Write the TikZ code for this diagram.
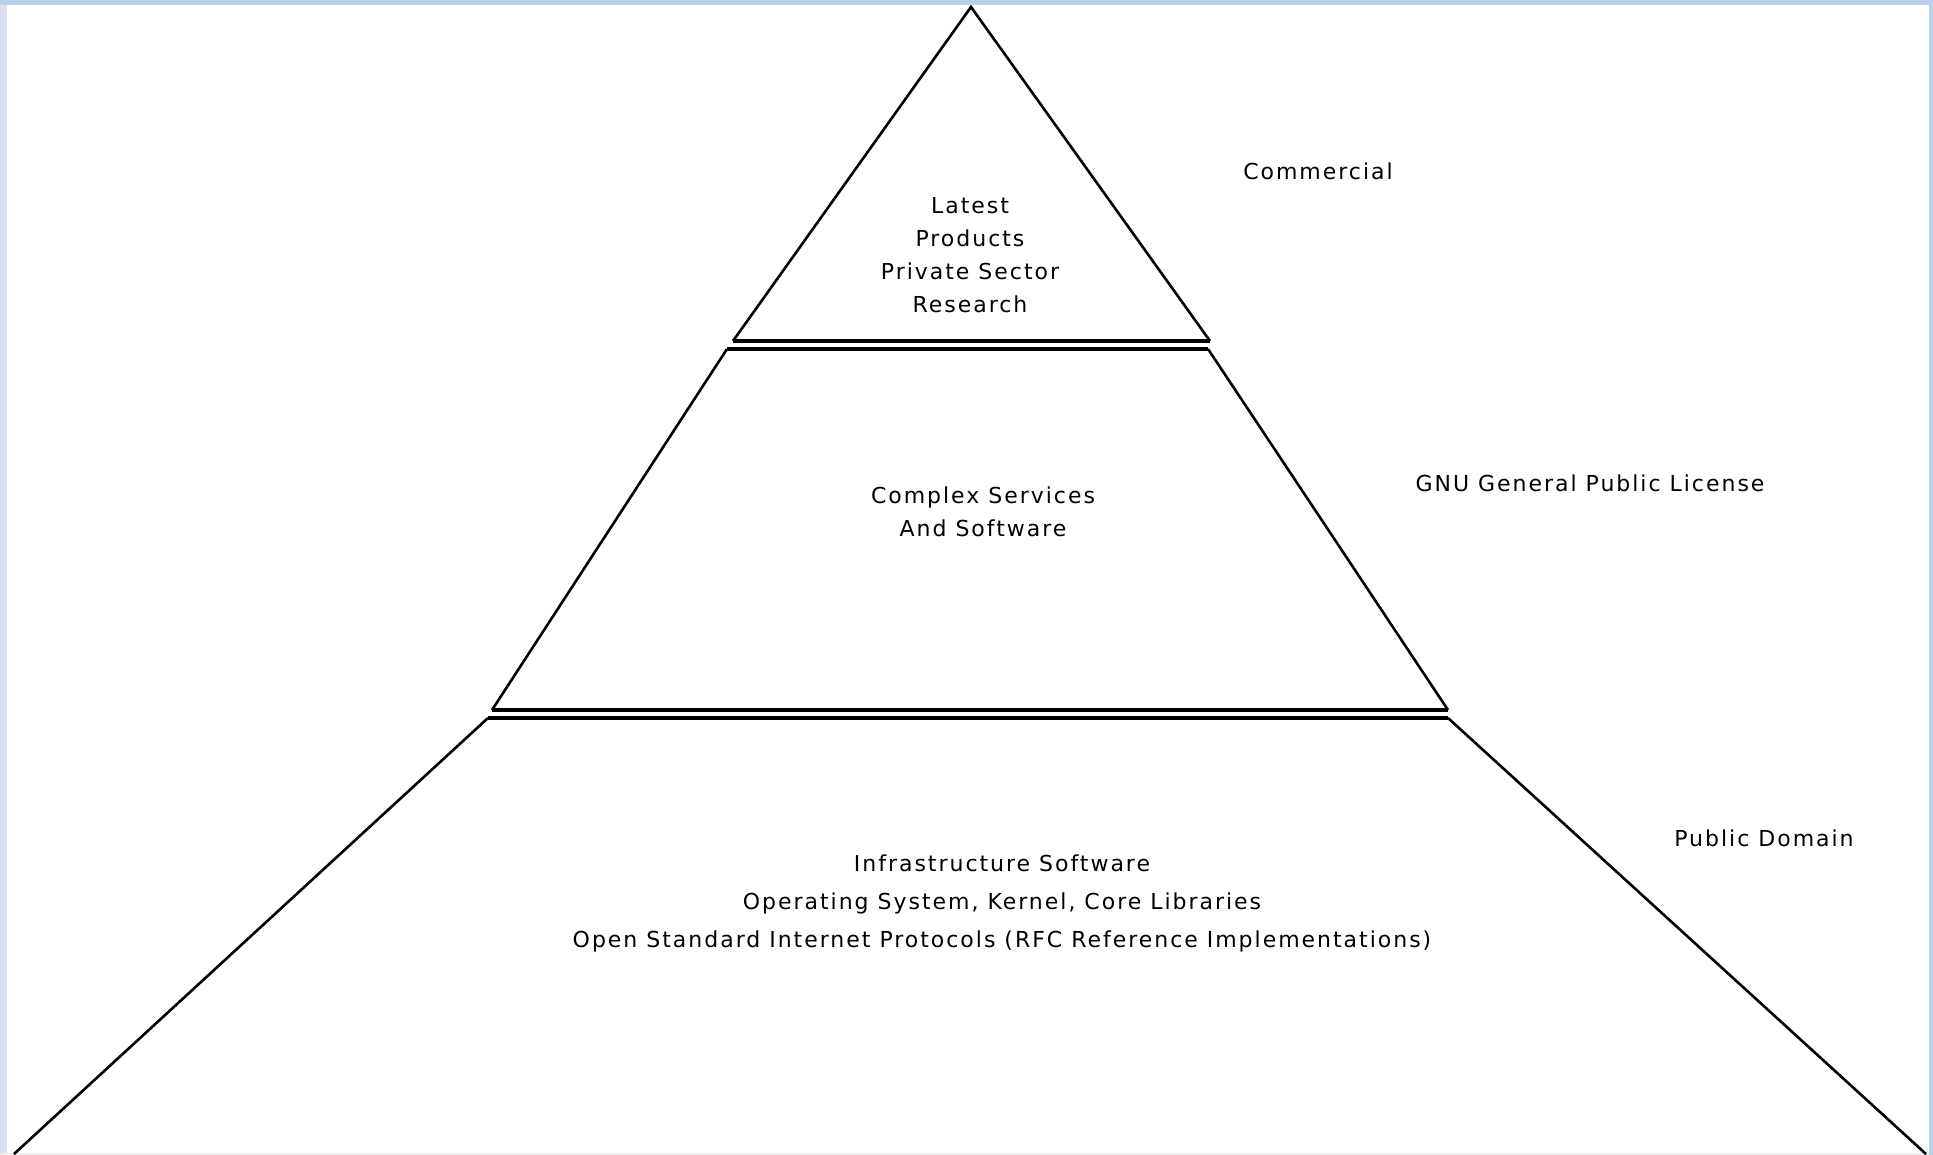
\documentclass[tikz,border=0pt]{standalone}
\usepackage{fontspec}
\setmainfont{DejaVu Sans}[LetterSpace=9]
\definecolor{frameblue}{HTML}{B9D0EE}
\definecolor{frameleft}{HTML}{D6E2F2}
\definecolor{framebottom}{HTML}{EEEEEE}
\tikzset{
  edge/.style={line width=2.6pt, black, line cap=butt, line join=miter},
  band/.style={line width=3.2pt, black},
  lbl/.style={font=\fontsize{22}{33}\selectfont, align=center, inner sep=0pt, anchor=center},
  lblb/.style={font=\fontsize{22}{38}\selectfont, align=center, inner sep=0pt, anchor=center}
}
\begin{document}
\begin{tikzpicture}[x=1pt,y=-1pt]
\useasboundingbox (0,0) rectangle (1933,1155);
% frame
\fill[white] (0,0) rectangle (1933,1155);
\fill[frameleft] (0,0) rectangle (7,1155);
\fill[framebottom] (0,1153) rectangle (1933,1155);
\fill[frameblue] (0,0) rectangle (1933,5);
\fill[frameblue] (1929,0) rectangle (1933,1155);
% vertices
\coordinate (apex) at (971,7);
\coordinate (t1l) at (733,341);
\coordinate (t1r) at (1210,341);
\coordinate (t2l) at (727,349);
\coordinate (t2r) at (1208,349);
\coordinate (m1l) at (492,710);
\coordinate (m1r) at (1448,710);
\coordinate (m2l) at (488,718);
\coordinate (m2r) at (1448,718);
\coordinate (b1l) at (14,1154);
\coordinate (b1r) at (1926,1154);
% top triangle
\draw[edge] (t1l) -- (apex) -- (t1r);
\draw[band] (t1l) -- (t1r);
\draw[band] (t2l) -- (t2r);
% middle
\draw[edge] (t2l) -- (m1l);
\draw[edge] (t2r) -- (m1r);
\draw[band] (m1l) -- (m1r);
\draw[band] (m2l) -- (m2r);
% bottom
\draw[edge] (m2l) -- (b1l);
\draw[edge] (m2r) -- (b1r);
% texts
\node[lbl] (top) at (970,255) {Latest\\Products\\Private Sector\\Research};
\node[lbl] (mid) at (983,512) {Complex Services\\And Software};
\node[lblb] (bot) at (1002,903) {Infrastructure Software\\Operating System, Kernel, Core Libraries\\Open Standard Internet Protocols (RFC Reference Implementations)};
\node[lbl] (com) at (1318,171) {Commercial};
\node[lbl] (gnu) at (1590,483) {GNU General Public License};
\node[lbl] (pd) at (1764,838) {Public Domain};
\end{tikzpicture}
\end{document}
